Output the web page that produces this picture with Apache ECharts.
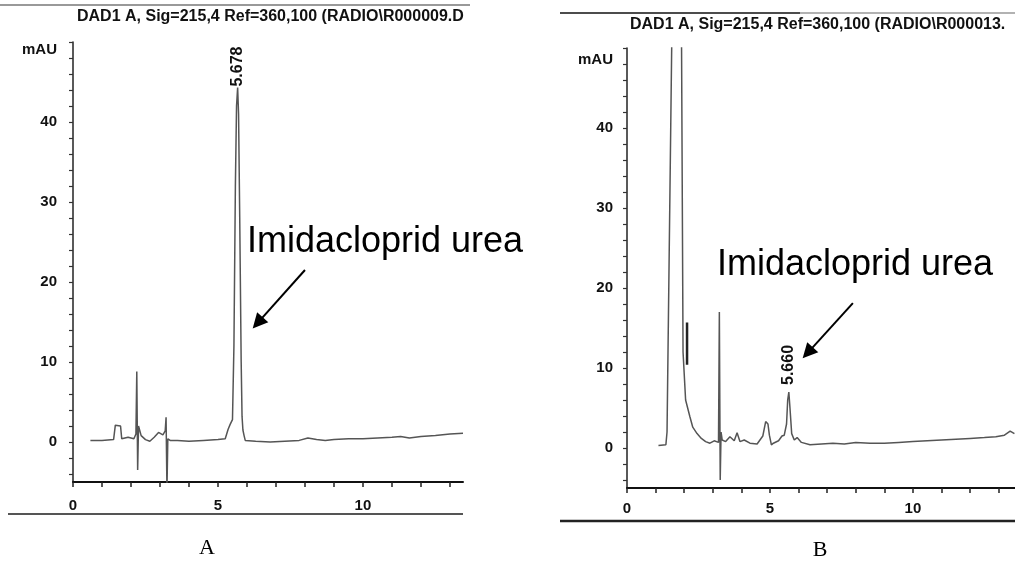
<!DOCTYPE html>
<html>
<head>
<meta charset="utf-8">
<script src="https://cdn.jsdelivr.net/npm/echarts@6/dist/echarts.min.js"></script>
<style>
  html, body { margin: 0; padding: 0; background: #fff; }
  #main { width: 1015px; height: 562px; }
</style>
</head>
<body>
<div id="main"></div>
<script>
// chromatogram A (retention time in min, signal in mAU)
var timeA = [0.6, 1.0, 1.4, 1.46, 1.5, 1.64, 1.68, 1.9, 2.1, 2.17, 2.2, 2.23, 2.26, 2.35, 2.5, 2.65, 2.8, 2.95, 3.1, 3.18, 3.21, 3.24, 3.27, 3.35, 3.6, 4.0, 4.5, 5.0, 5.25, 5.35, 5.42, 5.5, 5.55, 5.6, 5.64, 5.678, 5.71, 5.75, 5.8, 5.83, 5.86, 5.9, 5.94, 6.0, 6.3, 6.8, 7.3, 7.8, 8.1, 8.4, 8.7, 9.0, 9.5, 10.0, 10.5, 11.0, 11.3, 11.6, 12.0, 12.5, 13.0, 13.45];
var signalA = [0.2, 0.2, 0.3, 2.1, 2.1, 2.0, 0.4, 0.6, 0.4, 1.0, 8.8, -3.5, 2.0, 0.8, 0.3, 0.1, 0.6, 1.2, 0.9, 1.4, 3.1, -6, 0.4, 0.2, 0.2, 0.1, 0.2, 0.3, 0.4, 1.6, 2.2, 2.8, 12, 32, 42, 44.3, 41, 28, 10, 3.2, 1.5, 0.8, 0.2, 0.3, 0.1, 0.0, 0.1, 0.2, 0.5, 0.3, 0.2, 0.3, 0.4, 0.4, 0.5, 0.6, 0.7, 0.5, 0.7, 0.8, 1.0, 1.1];

// chromatogram B
var timeB = [1.1, 1.36, 1.4, 1.58, 1.75, 1.9, 1.96, 2.05, 2.2, 2.3, 2.45, 2.6, 2.75, 2.9, 3.05, 3.2, 3.23, 3.26, 3.29, 3.33, 3.45, 3.6, 3.75, 3.85, 3.95, 4.1, 4.3, 4.55, 4.75, 4.85, 4.93, 4.98, 5.05, 5.12, 5.3, 5.42, 5.5, 5.58, 5.62, 5.66, 5.7, 5.76, 5.85, 5.95, 6.1, 6.4, 6.8, 7.2, 7.6, 8.0, 8.5, 9.0, 9.5, 10.0, 10.5, 11.0, 11.5, 12.0, 12.5, 12.9, 13.2, 13.4, 13.55];
var signalB = [0.3, 0.4, 2.0, 55, 65, 56, 12, 6, 3.9, 2.6, 1.8, 1.2, 0.8, 0.6, 0.9, 0.7, 17, -4, 2.0, 1.0, 0.8, 1.4, 0.9, 1.9, 0.8, 1.0, 0.6, 0.5, 1.5, 3.3, 3.0, 1.6, 0.4, 0.6, 0.9, 1.5, 1.6, 3.0, 6.0, 7.0, 5.0, 1.8, 1.0, 1.3, 0.7, 0.4, 0.5, 0.6, 0.5, 0.7, 0.6, 0.6, 0.7, 0.8, 0.9, 1.0, 1.1, 1.2, 1.3, 1.4, 1.6, 2.1, 1.8];
// short integration marker on the tail of the first peak in B
var markerTimeB = [2.1, 2.1];
var markerSignalB = [15.7, 10.4];

// peak labels and annotation arrows (data coordinates)
var peakA = [5.678, 44.3];
var peakB = [5.66, 7.0];
var arrowA = [[8.0, 21.5], [6.37, 14.9]];
var arrowB = [[7.9, 18.1], [6.32, 11.9]];

// axis ticks
var xLabels = [0, 5, 10];
var xTicks = [0, 1, 2, 3, 4, 5, 6, 7, 8, 9, 10, 11, 12, 13];
var yLabels = [0, 10, 20, 30, 40];
var yTicks = [-4, -2, 0, 2, 4, 6, 8, 10, 12, 14, 16, 18, 20, 22, 24, 26, 28, 30, 32, 34, 36, 38, 40, 42, 44, 46, 48, 50];

var titleA = 'DAD1 A, Sig=215,4 Ref=360,100 (RADIO\\R000009.D)';
var titleB = 'DAD1 A, Sig=215,4 Ref=360,100 (RADIO\\R000013.D)';

function pairs(xs, ys) {
    return xs.map(function (x, i) { return [x, ys[i]]; });
}

var tickFont = { color: '#111', fontFamily: 'Liberation Sans', fontWeight: 'bold', fontSize: 15 };

function makeX(idx, max, margin) {
    return {
        type: 'value', gridIndex: idx, min: 0, max: max,
        axisLine: { onZero: false, lineStyle: { color: '#111', width: 2 } },
        axisTick: { customValues: xTicks, length: 5, lineStyle: { color: '#222', width: 1.5 } },
        axisLabel: Object.assign({ customValues: xLabels, margin: margin }, tickFont),
        splitLine: { show: false }
    };
}
function makeY(idx, unitAt, margin) {
    return {
        type: 'value', gridIndex: idx, min: -5, max: 50,
        axisLine: { show: true, onZero: false, lineStyle: { color: '#222', width: 1.5 } },
        axisTick: { customValues: yTicks, length: 4, lineStyle: { color: '#333', width: 1.2 } },
        axisLabel: Object.assign({
            customValues: yLabels.concat([unitAt]), margin: margin,
            formatter: function (v) { return v === unitAt ? 'mAU' : v; }
        }, tickFont),
        splitLine: { show: false }
    };
}
function peakMark(coord, text, dist) {
    return {
        symbol: 'circle', symbolSize: 0, silent: true,
        label: {
            show: true, position: 'top', distance: dist, rotate: 90,
            align: 'left', verticalAlign: 'middle',
            fontFamily: 'Liberation Sans', fontWeight: 'bold', fontSize: 16, color: '#111',
            formatter: text
        },
        data: [{ coord: coord }]
    };
}
function arrowMark(a) {
    return {
        silent: true, symbol: ['none', 'triangle'], symbolSize: 15,
        lineStyle: { color: '#000', width: 2, type: 'solid' },
        itemStyle: { color: '#000' },
        label: { show: false },
        data: [[{ coord: a[0] }, { coord: a[1] }]]
    };
}

var chart = echarts.init(document.getElementById('main'));
chart.setOption({
    backgroundColor: '#fff',
    animation: false,
    grid: [
        { left: 73, top: 42, width: 390, height: 440 },
        { left: 627, top: 48, width: 388, height: 440 }
    ],
    xAxis: [makeX(0, 13.45, 16), makeX(1, 13.57, 13)],
    yAxis: [makeY(0, 49, 16), makeY(1, 48.5, 14)],
    series: [
        {
            type: 'line', xAxisIndex: 0, yAxisIndex: 0, data: pairs(timeA, signalA),
            showSymbol: false, lineStyle: { color: '#555', width: 1.5 },
            markPoint: peakMark(peakA, '5.678', 1),
            markLine: arrowMark(arrowA)
        },
        {
            type: 'line', xAxisIndex: 1, yAxisIndex: 1, data: pairs(timeB, signalB),
            showSymbol: false, lineStyle: { color: '#555', width: 1.5 },
            markPoint: peakMark(peakB, '5.660', 7),
            markLine: arrowMark(arrowB)
        },
        {
            type: 'line', xAxisIndex: 1, yAxisIndex: 1, data: pairs(markerTimeB, markerSignalB),
            showSymbol: false, lineStyle: { color: '#222', width: 2.5 }
        }
    ],
    graphic: [
        { type: 'line', shape: { x1: 0, y1: 5, x2: 470, y2: 5 }, style: { stroke: '#777', lineWidth: 1.5 } },
        { type: 'line', shape: { x1: 560, y1: 13, x2: 800, y2: 13 }, style: { stroke: '#111', lineWidth: 1.5 } },
        { type: 'line', shape: { x1: 800, y1: 13, x2: 1015, y2: 13 }, style: { stroke: '#999', lineWidth: 1.5 } },
        { type: 'line', shape: { x1: 8, y1: 514, x2: 463, y2: 514 }, style: { stroke: '#555', lineWidth: 2 } },
        { type: 'line', shape: { x1: 560, y1: 521, x2: 1015, y2: 521 }, style: { stroke: '#222', lineWidth: 2.5 } },
        { type: 'text', left: 77, top: 9, style: { text: titleA, width: 393, overflow: 'truncate', ellipsis: '', fill: '#111', font: 'bold 16px "Liberation Sans"' } },
        { type: 'text', left: 630, top: 17, style: { text: titleB, width: 385, overflow: 'truncate', ellipsis: '', fill: '#111', font: 'bold 16px "Liberation Sans"' } },
        { type: 'text', x: 247, y: 242, style: { text: 'Imidacloprid urea', verticalAlign: 'middle', fill: '#000', font: '36px "Liberation Sans"' } },
        { type: 'text', x: 717, y: 265, style: { text: 'Imidacloprid urea', verticalAlign: 'middle', fill: '#000', font: '36px "Liberation Sans"' } },
        { type: 'text', x: 207, y: 548, style: { text: 'A', align: 'center', verticalAlign: 'middle', fill: '#000', font: '22px "Liberation Serif"' } },
        { type: 'text', x: 820, y: 550, style: { text: 'B', align: 'center', verticalAlign: 'middle', fill: '#000', font: '22px "Liberation Serif"' } }
    ]
});
</script>
</body>
</html>
